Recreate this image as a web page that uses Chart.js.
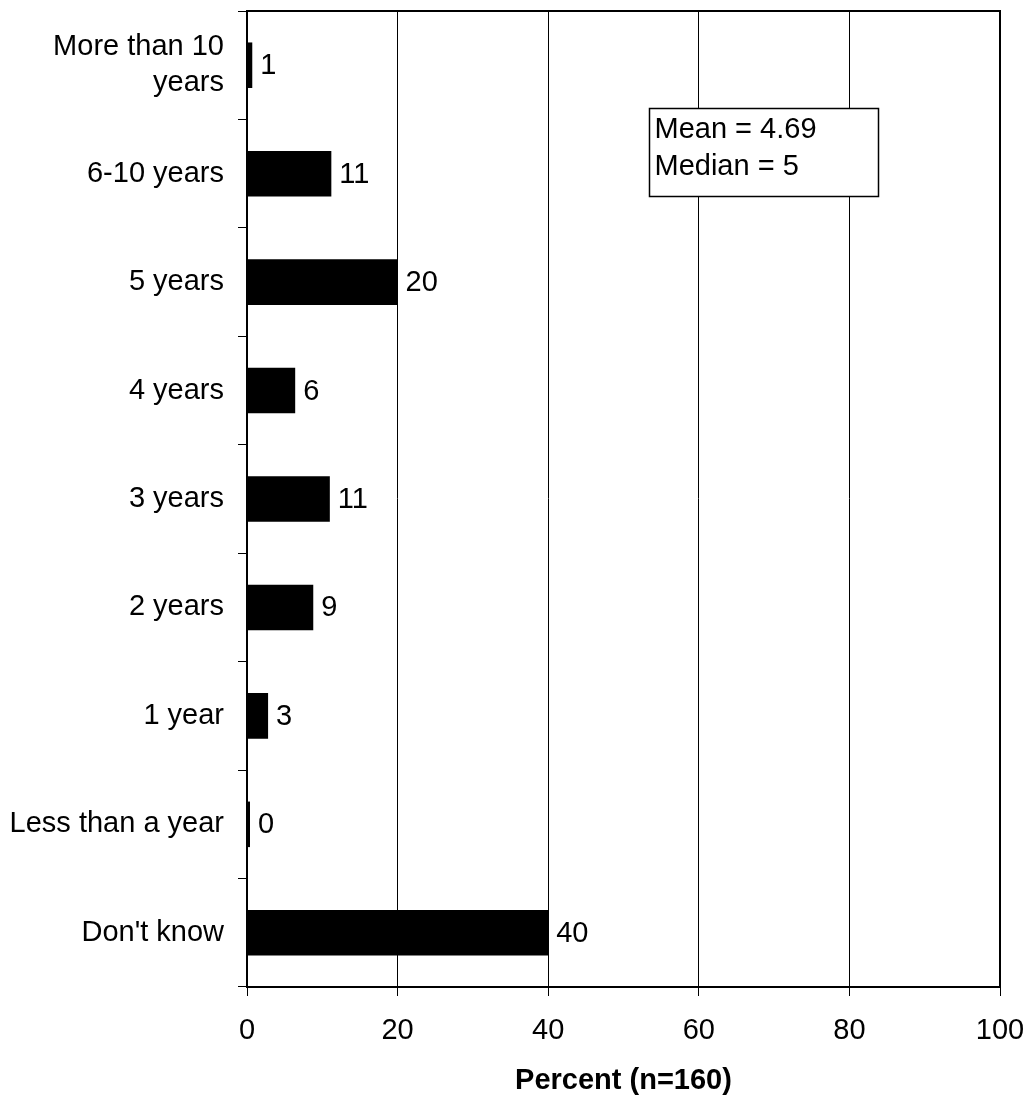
<!DOCTYPE html>
<html>
<head>
<meta charset="utf-8">
<script src="https://cdn.jsdelivr.net/npm/chart.js@4"></script>
<style>
  body { margin: 0; background: #fff; }
  canvas { display: block; }
</style>
</head>
<body>
<canvas id="myChart" width="1028" height="1095"></canvas>
<script>
let categories = [["More than 10", "years"], "6-10 years", "5 years", "4 years", "3 years", "2 years", "1 year", "Less than a year", "Don't know"];
let percents = [0.7, 11.2, 20, 6.4, 11, 8.8, 2.8, 0.4, 40];
let valueLabels = ["1", "11", "20", "6", "11", "9", "3", "0", "40"];
let statLines = ["Mean = 4.69", "Median = 5"];
let axisTitle = "Percent (n=160)";

const FONT = "'Liberation Sans', Arial, sans-serif";

// numbers next to the bars
const valuePlugin = {
    id: "valueLabels",
    afterDatasetsDraw(chart) {
        const ctx = chart.ctx;
        const meta = chart.getDatasetMeta(0);
        ctx.save();
        ctx.font = "29px " + FONT;
        ctx.fillStyle = "#000";
        ctx.textAlign = "left";
        ctx.textBaseline = "middle";
        meta.data.forEach((bar, i) => {
            ctx.fillText(valueLabels[i], bar.x + 8, bar.y + 1);
        });
        ctx.restore();
    },
};

// frame on top/right and the mean/median box
const framePlugin = {
    id: "frame",
    afterDraw(chart) {
        const ctx = chart.ctx;
        const a = chart.chartArea;
        const x = chart.scales.x;
        ctx.save();
        ctx.strokeStyle = "#000";
        ctx.lineWidth = 2;
        ctx.beginPath();
        ctx.moveTo(a.left, a.top);
        ctx.lineTo(a.right, a.top);
        ctx.lineTo(a.right, a.bottom);
        ctx.stroke();

        let bx = Math.round(x.getPixelForValue(53.4)) + 0.5;
        let bw = Math.round(x.getPixelForValue(83.8)) - bx + 0.5;
        let by = a.top + 97.5;
        ctx.fillStyle = "#fff";
        ctx.fillRect(bx, by, bw, 88);
        ctx.lineWidth = 1.5;
        ctx.strokeRect(bx, by, bw, 88);
        ctx.fillStyle = "#000";
        ctx.font = "29px " + FONT;
        ctx.textBaseline = "middle";
        ctx.fillText(statLines[0], bx + 5, by + 21);
        ctx.fillText(statLines[1], bx + 5, by + 58);
        ctx.restore();
    },
};

let chart = new Chart("myChart", {
    type: "bar",
    data: {
        labels: categories,
        datasets: [
            {
                data: percents,
                backgroundColor: "#000",
                barPercentage: 0.42,
                categoryPercentage: 1,
            },
        ],
    },
    options: {
        indexAxis: "y",
        responsive: false,
        animation: false,
        devicePixelRatio: 1,
        layout: { padding: { top: 11, right: 28, left: 0, bottom: 0 } },
        plugins: {
            legend: { display: false },
            tooltip: { enabled: false },
        },
        scales: {
            x: {
                min: 0,
                max: 100,
                ticks: {
                    stepSize: 20,
                    color: "#000",
                    font: { family: FONT, size: 29 },
                    padding: 18,
                },
                grid: { color: "#000", lineWidth: 1, tickLength: 9 },
                border: { display: true, color: "#000", width: 2 },
                title: {
                    display: true,
                    text: axisTitle,
                    color: "#000",
                    font: { family: FONT, size: 29, weight: "bold", lineHeight: 1 },
                    padding: { top: 0, bottom: 0 },
                },
                afterFit(scale) {
                    scale.height = 108;
                    scale.paddingLeft = 0;
                    scale.paddingRight = 0;
                },
            },
            y: {
                ticks: {
                    color: "#000",
                    font: { family: FONT, size: 29, lineHeight: 1.25 },
                    padding: 14,
                },
                grid: { drawOnChartArea: false, color: "#000", tickLength: 9, offset: true },
                border: { display: true, color: "#000", width: 2 },
                afterFit(scale) {
                    scale.width = 247;
                    scale.paddingTop = 0;
                    scale.paddingBottom = 0;
                },
            },
        },
    },
    plugins: [valuePlugin, framePlugin],
});
</script>
</body>
</html>
